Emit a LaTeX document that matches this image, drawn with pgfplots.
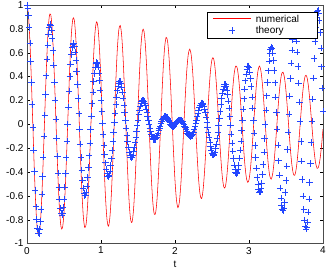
\documentclass[border=0pt]{standalone}
\usepackage{fontspec}
\setmainfont{Liberation Sans}
\usepackage{pgfplots}
\usepackage{pgfplotstable}
\pgfplotsset{compat=1.18}
\definecolor{thblue}{RGB}{35,70,255}
\pgfplotstableread{
t y
0.00 1.000
0.02 0.913
0.04 0.685
0.06 0.353
0.08 -0.028
0.10 -0.398
0.12 -0.699
0.14 -0.885
0.16 -0.928
0.18 -0.835
0.20 -0.609
0.22 -0.286
0.24 0.082
0.26 0.438
0.28 0.725
0.30 0.898
0.32 0.922
0.34 0.801
0.36 0.557
0.38 0.228
0.40 -0.132
0.42 -0.465
0.44 -0.722
0.46 -0.861
0.48 -0.868
0.50 -0.742
0.52 -0.498
0.54 -0.173
0.56 0.181
0.58 0.509
0.60 0.759
0.62 0.885
0.64 0.871
0.66 0.718
0.68 0.455
0.70 0.121
0.72 -0.229
0.74 -0.539
0.76 -0.764
0.78 -0.865
0.80 -0.832
0.82 -0.668
0.84 -0.399
0.86 -0.068
0.88 0.273
0.90 0.570
0.92 0.776
0.94 0.859
0.96 0.807
0.98 0.628
1.00 0.350
1.02 0.017
1.04 -0.318
1.06 -0.602
1.08 -0.791
1.10 -0.855
1.12 -0.782
1.14 -0.586
1.16 -0.299
1.18 0.032
1.20 0.356
1.22 0.621
1.24 0.787
1.26 0.828
1.28 0.741
1.30 0.537
1.32 0.248
1.34 -0.080
1.36 -0.395
1.38 -0.648
1.40 -0.799
1.42 -0.821
1.44 -0.713
1.46 -0.493
1.48 -0.199
1.50 0.125
1.52 0.426
1.54 0.658
1.56 0.784
1.58 0.784
1.60 0.661
1.62 0.437
1.64 0.146
1.66 -0.165
1.68 -0.445
1.70 -0.652
1.72 -0.754
1.74 -0.736
1.76 -0.604
1.78 -0.379
1.80 -0.096
1.82 0.199
1.84 0.460
1.86 0.646
1.88 0.728
1.90 0.695
1.92 0.553
1.94 0.326
1.96 0.050
1.98 -0.231
2.00 -0.472
2.02 -0.636
2.04 -0.699
2.06 -0.647
2.08 -0.494
2.10 -0.269
2.12 -0.008
2.14 0.247
2.16 0.457
2.18 0.589
2.20 0.630
2.22 0.575
2.24 0.430
2.26 0.217
2.28 -0.029
2.30 -0.271
2.32 -0.469
2.34 -0.593
2.36 -0.623
2.38 -0.548
2.40 -0.389
2.42 -0.174
2.44 0.062
2.46 0.282
2.48 0.451
2.50 0.544
2.52 0.554
2.54 0.479
2.56 0.328
2.58 0.129
2.60 -0.089
2.62 -0.290
2.64 -0.444
2.66 -0.527
2.68 -0.525
2.70 -0.439
2.72 -0.286
2.74 -0.092
2.76 0.112
2.78 0.294
2.80 0.426
2.82 0.488
2.84 0.473
2.86 0.388
2.88 0.242
2.90 0.058
2.92 -0.135
2.94 -0.307
2.96 -0.430
2.98 -0.486
3.00 -0.465
3.02 -0.370
3.04 -0.217
3.06 -0.030
3.08 0.163
3.10 0.329
3.12 0.443
3.14 0.488
3.16 0.452
3.18 0.346
3.20 0.187
3.22 0.001
3.24 -0.182
3.26 -0.334
3.28 -0.431
3.30 -0.460
3.32 -0.416
3.34 -0.308
3.36 -0.153
3.38 0.025
3.40 0.197
3.42 0.335
3.44 0.419
3.46 0.437
3.48 0.388
3.50 0.277
3.52 0.123
3.54 -0.050
3.56 -0.214
3.58 -0.342
3.60 -0.417
3.62 -0.426
3.64 -0.366
3.66 -0.249
3.68 -0.095
3.70 0.072
3.72 0.227
3.74 0.343
3.76 0.405
3.78 0.402
3.80 0.334
3.82 0.215
3.84 0.066
3.86 -0.089
3.88 -0.226
3.90 -0.324
3.92 -0.369
3.94 -0.357
3.96 -0.292
3.98 -0.181
4.00 -0.041
}\numerical
\pgfplotstableread{
t y
0.00 1.000
0.01 0.975
0.02 0.912
0.03 0.812
0.04 0.683
0.05 0.526
0.06 0.351
0.07 0.164
0.08 -0.028
0.09 -0.217
0.10 -0.395
0.11 -0.556
0.12 -0.692
0.13 -0.800
0.14 -0.875
0.15 -0.914
0.16 -0.917
0.17 -0.883
0.18 -0.815
0.19 -0.714
0.20 -0.587
0.21 -0.438
0.22 -0.273
0.23 -0.099
0.24 0.077
0.25 0.248
0.26 0.407
0.27 0.548
0.28 0.665
0.29 0.755
0.30 0.813
0.31 0.839
0.32 0.831
0.33 0.790
0.34 0.718
0.35 0.619
0.36 0.496
0.37 0.356
0.38 0.202
0.39 0.043
0.40 -0.116
0.41 -0.268
0.42 -0.408
0.43 -0.530
0.44 -0.629
0.45 -0.702
0.46 -0.746
0.47 -0.760
0.48 -0.744
0.49 -0.698
0.50 -0.625
0.51 -0.528
0.52 -0.412
0.53 -0.281
0.54 -0.141
0.55 0.003
0.56 0.145
0.57 0.279
0.58 0.400
0.59 0.503
0.60 0.586
0.61 0.643
0.62 0.674
0.63 0.678
0.64 0.655
0.65 0.606
0.66 0.535
0.67 0.442
0.68 0.334
0.69 0.215
0.70 0.088
0.71 -0.040
0.72 -0.165
0.73 -0.280
0.74 -0.383
0.75 -0.469
0.76 -0.535
0.77 -0.579
0.78 -0.599
0.79 -0.595
0.80 -0.567
0.81 -0.517
0.82 -0.448
0.83 -0.362
0.84 -0.264
0.85 -0.156
0.86 -0.044
0.87 0.067
0.88 0.174
0.89 0.272
0.90 0.357
0.91 0.427
0.92 0.478
0.93 0.509
0.94 0.520
0.95 0.510
0.96 0.479
0.97 0.431
0.98 0.366
0.99 0.288
1.00 0.200
1.01 0.106
1.02 0.010
1.03 -0.085
1.04 -0.174
1.05 -0.255
1.06 -0.323
1.07 -0.377
1.08 -0.415
1.09 -0.436
1.10 -0.439
1.11 -0.424
1.12 -0.394
1.13 -0.347
1.14 -0.289
1.15 -0.220
1.16 -0.145
1.17 -0.065
1.18 0.015
1.19 0.093
1.20 0.165
1.21 0.228
1.22 0.281
1.23 0.321
1.24 0.347
1.25 0.359
1.26 0.357
1.27 0.340
1.28 0.310
1.29 0.269
1.30 0.218
1.31 0.160
1.32 0.098
1.33 0.033
1.34 -0.030
1.35 -0.091
1.36 -0.146
1.37 -0.193
1.38 -0.231
1.39 -0.259
1.40 -0.275
1.41 -0.280
1.42 -0.274
1.43 -0.256
1.44 -0.230
1.45 -0.195
1.46 -0.153
1.47 -0.108
1.48 -0.060
1.49 -0.011
1.50 0.036
1.51 0.080
1.52 0.119
1.53 0.151
1.54 0.176
1.55 0.193
1.56 0.202
1.57 0.202
1.58 0.194
1.59 0.178
1.60 0.156
1.61 0.129
1.62 0.099
1.63 0.065
1.64 0.031
1.65 -0.002
1.66 -0.034
1.67 -0.062
1.68 -0.086
1.69 -0.105
1.70 -0.119
1.71 -0.127
1.72 -0.130
1.73 -0.128
1.74 -0.120
1.75 -0.108
1.76 -0.092
1.77 -0.074
1.78 -0.054
1.79 -0.033
1.80 -0.013
1.81 0.007
1.82 0.024
1.83 0.039
1.84 0.051
1.85 0.060
1.86 0.065
1.87 0.067
1.88 0.063
1.89 0.056
1.90 0.047
1.91 0.037
1.92 0.027
1.93 0.018
1.94 0.000
1.95 -0.010
1.96 -0.018
1.97 -0.022
1.98 -0.018
1.99 -0.010
2.00 0.000
2.01 0.010
2.02 0.019
2.03 0.024
2.04 0.029
2.05 0.033
2.06 0.035
2.07 0.035
2.08 0.033
2.09 0.029
2.10 0.022
2.11 0.012
2.12 0.001
2.13 -0.013
2.14 -0.028
2.15 -0.043
2.16 -0.058
2.17 -0.073
2.18 -0.085
2.19 -0.095
2.20 -0.101
2.21 -0.103
2.22 -0.101
2.23 -0.094
2.24 -0.082
2.25 -0.066
2.26 -0.045
2.27 -0.021
2.28 0.007
2.29 0.035
2.30 0.065
2.31 0.093
2.32 0.120
2.33 0.143
2.34 0.161
2.35 0.173
2.36 0.179
2.37 0.178
2.38 0.168
2.39 0.152
2.40 0.128
2.41 0.097
2.42 0.061
2.43 0.020
2.44 -0.023
2.45 -0.068
2.46 -0.111
2.47 -0.152
2.48 -0.188
2.49 -0.218
2.50 -0.240
2.51 -0.254
2.52 -0.257
2.53 -0.250
2.54 -0.232
2.55 -0.203
2.56 -0.166
2.57 -0.120
2.58 -0.068
2.59 -0.011
2.60 0.049
2.61 0.108
2.62 0.165
2.63 0.217
2.64 0.262
2.65 0.297
2.66 0.322
2.67 0.334
2.68 0.333
2.69 0.317
2.70 0.289
2.71 0.248
2.72 0.196
2.73 0.134
2.74 0.065
2.75 -0.008
2.76 -0.083
2.77 -0.157
2.78 -0.226
2.79 -0.288
2.80 -0.340
2.81 -0.379
2.82 -0.404
2.83 -0.413
2.84 -0.405
2.85 -0.381
2.86 -0.340
2.87 -0.285
2.88 -0.217
2.89 -0.139
2.90 -0.053
2.91 0.037
2.92 0.127
2.93 0.214
2.94 0.294
2.95 0.365
2.96 0.421
2.97 0.463
2.98 0.486
2.99 0.490
3.00 0.474
3.01 0.439
3.02 0.385
3.03 0.315
3.04 0.230
3.05 0.135
3.06 0.032
3.07 -0.074
3.08 -0.179
3.09 -0.278
3.10 -0.369
3.11 -0.446
3.12 -0.506
3.13 -0.547
3.14 -0.567
3.15 -0.564
3.16 -0.539
3.17 -0.491
3.18 -0.422
3.19 -0.336
3.20 -0.234
3.21 -0.121
3.22 -0.002
3.23 0.120
3.24 0.239
3.25 0.350
3.26 0.449
3.27 0.531
3.28 0.593
3.29 0.632
3.30 0.647
3.31 0.635
3.32 0.598
3.33 0.536
3.34 0.452
3.35 0.348
3.36 0.229
3.37 0.098
3.38 -0.038
3.39 -0.175
3.40 -0.306
3.41 -0.428
3.42 -0.533
3.43 -0.619
3.44 -0.681
3.45 -0.716
3.46 -0.723
3.47 -0.702
3.48 -0.652
3.49 -0.574
3.50 -0.472
3.51 -0.351
3.52 -0.213
3.53 -0.065
3.54 0.087
3.55 0.238
3.56 0.382
3.57 0.512
3.58 0.623
3.59 0.710
3.60 0.770
3.61 0.799
3.62 0.798
3.63 0.764
3.64 0.698
3.65 0.604
3.66 0.485
3.67 0.345
3.68 0.188
3.69 0.023
3.70 -0.145
3.71 -0.310
3.72 -0.464
3.73 -0.601
3.74 -0.715
3.75 -0.803
3.76 -0.858
3.77 -0.880
3.78 -0.868
3.79 -0.819
3.80 -0.738
3.81 -0.626
3.82 -0.488
3.83 -0.329
3.84 -0.154
3.85 0.029
3.86 0.212
3.87 0.389
3.88 0.552
3.89 0.695
3.90 0.811
3.91 0.896
3.92 0.945
3.93 0.958
3.94 0.932
3.95 0.869
3.96 0.770
3.97 0.639
3.98 0.482
3.99 0.302
4.00 0.109
}\theory
\newcommand{\legline}{\textcolor{red}{\rule[0.32em]{38pt}{0.6pt}}}
\newcommand{\legplus}{\makebox[38pt]{\textcolor{thblue}{\makebox[0pt]{\rule[0.32em]{6.4pt}{0.5pt}}\makebox[0pt]{\rule[\dimexpr0.32em-2.95pt\relax]{0.5pt}{6.4pt}}}}}
\begin{document}
\begin{tikzpicture}
\begin{axis}[
  scale only axis, width=296pt, height=238.5pt,
  xmin=0, xmax=4, ymin=-1, ymax=1,
  xtick={0,1,2,3,4},
  ytick={-1,-0.8,-0.6,-0.4,-0.2,0,0.2,0.4,0.6,0.8,1},
  tick align=inside, major tick length=3pt,
  tick style={black},
  axis line style={black!70, line width=0.7pt},
  tick label style={font=\fontsize{10}{12}\selectfont},
  /pgf/number format/assume math mode=true,
  xlabel={t}, xlabel style={font=\fontsize{10}{12}\selectfont},
  legend style={at={(0.98,0.972)}, anchor=north east,
    font=\fontsize{10}{12}\selectfont,
    inner xsep=4pt, inner ysep=1pt, row sep=-1pt},
  legend cell align=left,
  legend image code/.code={},
]
\addplot[color=red, line width=0.55pt, smooth] table[x=t, y=y] {\numerical};
\addplot[color=thblue, only marks, mark=+, mark size=3.2pt, mark options={line width=0.55pt}] table[x=t, y=y] {\theory};
\legend{\legline\hspace{5pt}\makebox[55pt][l]{numerical}, \legplus\hspace{5pt}\makebox[55pt][l]{theory}}
\end{axis}
\pgfresetboundingbox
\path (-27pt,-29.5pt) rectangle (300pt,243.5pt);
\end{tikzpicture}
\end{document}
